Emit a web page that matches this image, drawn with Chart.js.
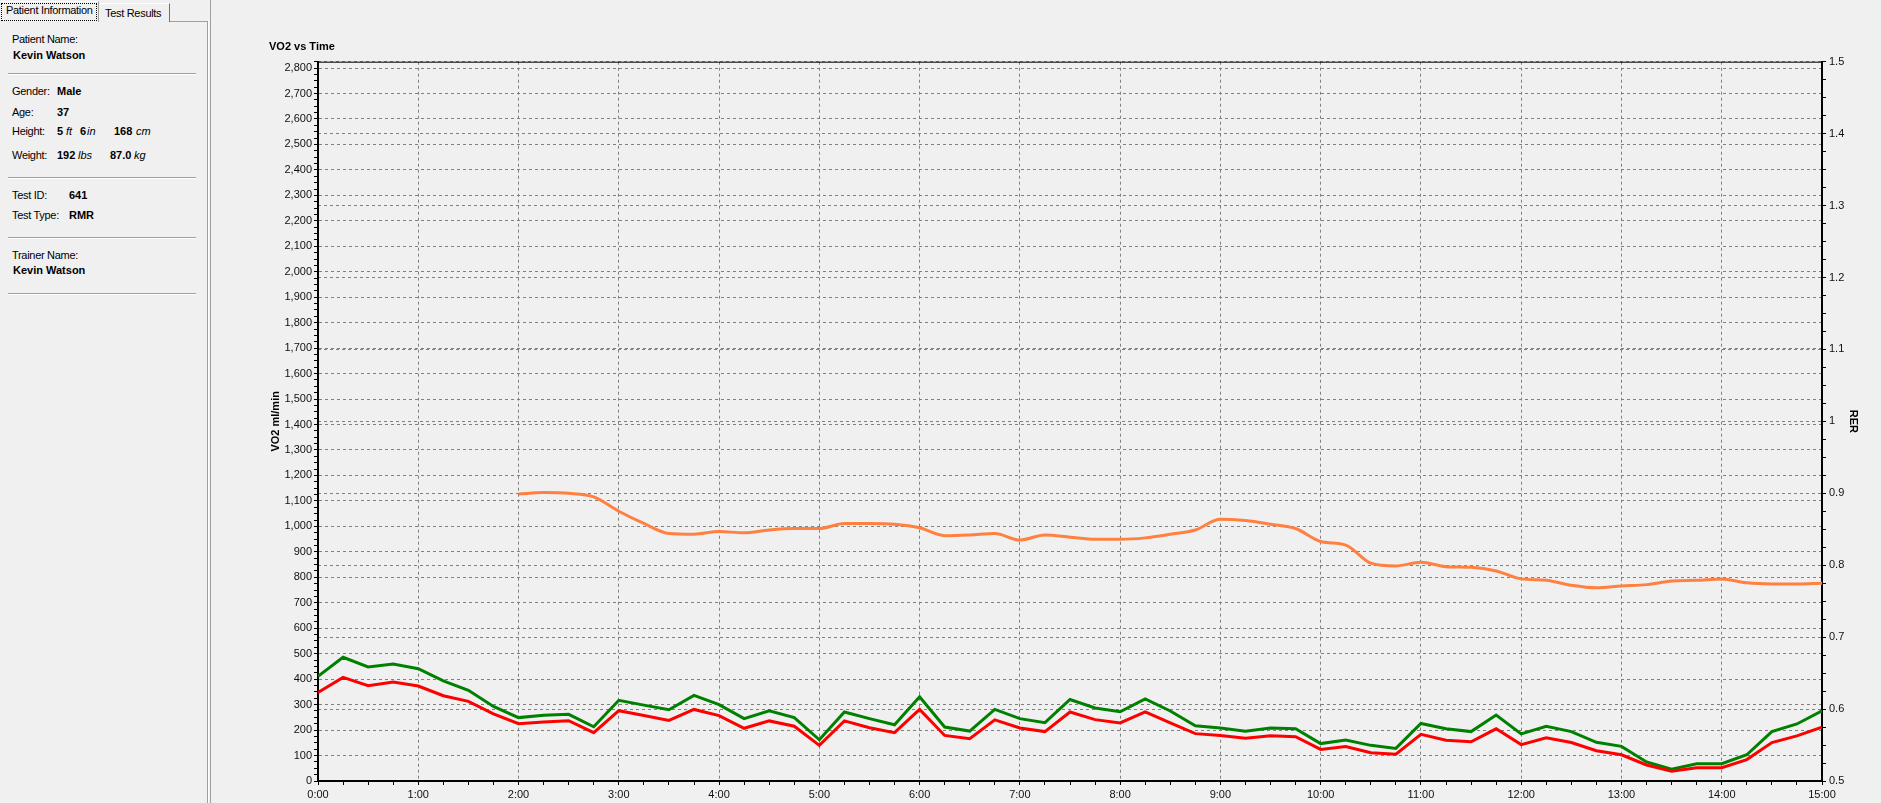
<!DOCTYPE html>
<html>
<head>
<meta charset="utf-8">
<title>VO2 vs Time</title>
<script src="https://cdn.jsdelivr.net/npm/chart.js@4.4.1/dist/chart.umd.min.js"></script>
<style>
  html, body { margin: 0; padding: 0; }
  body {
    width: 1881px; height: 803px; overflow: hidden; position: relative;
    background: #f0f0f0; color: #000;
    font-family: "Liberation Sans", Arial, sans-serif; font-size: 11px;
  }
  .t { position: absolute; white-space: nowrap; line-height: 13px; }
  .lbl { letter-spacing: -0.3px; }
  .val { font-weight: bold; }
  .unit { font-style: italic; }
  .sep { position: absolute; left: 8px; width: 188px; height: 1px; background: #a0a0a0; border-bottom: 1px solid #fff; }

  /* tabs */
  .tab1 { position: absolute; left: 0; top: 1px; width: 98px; height: 20px; border-right: 1px solid #a0a0a0; border-top: 1px solid #fff; }
  .tab1 .focus { position: absolute; left: 1px; top: 1px; width: 94px; height: 16px; border: 1px dotted #000; }
  .tab2 { position: absolute; left: 100px; top: 3px; width: 69px; height: 18px; border-top: 1px solid #fff; border-right: 1px solid #707070; }
  .panelTop { position: absolute; left: 170px; top: 21px; width: 37px; height: 1px; background: #a0a0a0; }
  .vline1 { position: absolute; left: 207px; top: 21px; width: 1px; height: 782px; background: #a0a0a0; }
  .vline2 { position: absolute; left: 210px; top: 0; width: 1px; height: 803px; background: #a0a0a0; }
  .vlight { position: absolute; left: 208px; top: 21px; width: 1px; height: 782px; background: #fff; }

  #chartBox { position: absolute; left: 213px; top: 0; width: 1668px; height: 803px; }
  #vo2Chart { display: block; }
</style>
</head>
<body>

<!-- left info panel -->
<div class="tab1"><div class="focus"></div><span class="t lbl" style="left:6px;top:2px">Patient Information</span></div>
<div class="tab2"><span class="t lbl" style="left:5px;top:3px">Test Results</span></div>
<div class="panelTop"></div>
<div class="vline1"></div>
<div class="vlight"></div>
<div class="vline2"></div>

<span class="t lbl" style="left:12px;top:33px">Patient Name:</span>
<span class="t val" style="left:13px;top:49px">Kevin Watson</span>
<div class="sep" style="top:73px"></div>

<span class="t lbl" style="left:12px;top:85px">Gender:</span>
<span class="t val" style="left:57px;top:85px">Male</span>
<span class="t lbl" style="left:12px;top:106px">Age:</span>
<span class="t val" style="left:57px;top:106px">37</span>
<span class="t lbl" style="left:12px;top:125px">Height:</span>
<span class="t val" style="left:57px;top:125px">5</span>
<span class="t unit" style="left:66px;top:125px">ft</span>
<span class="t val" style="left:80px;top:125px">6</span>
<span class="t unit" style="left:87px;top:125px">in</span>
<span class="t val" style="left:114px;top:125px">168</span>
<span class="t unit" style="left:136px;top:125px">cm</span>
<span class="t lbl" style="left:12px;top:149px">Weight:</span>
<span class="t val" style="left:57px;top:149px">192</span>
<span class="t unit" style="left:78px;top:149px">lbs</span>
<span class="t val" style="left:110px;top:149px">87.0</span>
<span class="t unit" style="left:134px;top:149px">kg</span>
<div class="sep" style="top:177px"></div>

<span class="t lbl" style="left:12px;top:189px">Test ID:</span>
<span class="t val" style="left:69px;top:189px">641</span>
<span class="t lbl" style="left:12px;top:209px">Test Type:</span>
<span class="t val" style="left:69px;top:209px">RMR</span>
<div class="sep" style="top:237px"></div>

<span class="t lbl" style="left:12px;top:249px">Trainer Name:</span>
<span class="t val" style="left:13px;top:264px">Kevin Watson</span>
<div class="sep" style="top:293px"></div>

<div id="chartBox"><canvas id="vo2Chart" width="1668" height="803"></canvas></div>

<script>
// time of each sample, in seconds (one every 15 s)
const timeSec = [0, 15, 30, 45, 60, 75, 90, 105, 120, 135, 150, 165, 180, 195, 210, 225,
  240, 255, 270, 285, 300, 315, 330, 345, 360, 375, 390, 405, 420, 435, 450, 465,
  480, 495, 510, 525, 540, 555, 570, 585, 600, 615, 630, 645, 660, 675, 690, 705,
  720, 735, 750, 765, 780, 795, 810, 825, 840, 855, 870, 885, 900];

// VO2 ml/min (green)
const vo2 = [411, 486, 448, 459, 441, 393, 356, 293, 249, 258, 262, 213, 317, 298, 280, 336,
  300, 245, 276, 249, 162, 271, 245, 221, 331, 212, 196, 281, 245, 229, 320, 287,
  272, 322, 275, 217, 208, 195, 208, 205, 147, 161, 140, 128, 226, 205, 194, 259,
  185, 215, 194, 152, 136, 75, 46, 68, 68, 103, 194, 224, 276];

// VCO2 ml/min (red)
const vco2 = [348, 407, 374, 389, 373, 335, 313, 264, 225, 232, 237, 190, 276, 257, 238, 281,
  257, 207, 236, 215, 140, 236, 209, 190, 281, 179, 166, 240, 208, 194, 271, 241,
  228, 271, 228, 186, 179, 168, 178, 174, 124, 135, 111, 105, 183, 160, 154, 205,
  143, 170, 151, 119, 103, 63, 38, 52, 52, 84, 151, 177, 211];

// RER (orange, right axis) - starts at 2:00
const rer = [null, null, null, null, null, null, null, null,
  0.899, 0.901, 0.900, 0.895, 0.875, 0.858, 0.844, 0.843,
  0.847, 0.845, 0.849, 0.851, 0.851, 0.858, 0.858, 0.857, 0.852, 0.841, 0.842, 0.844,
  0.835, 0.842, 0.839, 0.836, 0.836, 0.838, 0.843, 0.849, 0.864, 0.862, 0.857, 0.851,
  0.833, 0.828, 0.803, 0.799, 0.804, 0.798, 0.797, 0.792, 0.781, 0.779, 0.772, 0.7685,
  0.771, 0.773, 0.778, 0.779, 0.781, 0.7755, 0.774, 0.774, 0.775];

// axis ranges and tick steps
const timeMax = 900, timeMajor = 60, timeMinor = 15;
const vo2Max = 2825, vo2Major = 100, vo2Minor = 25;
const rerMin = 0.5, rerMax = 1.5, rerMajor = 0.1, rerMinor = 0.025;

const toPoints = (values) => timeSec.map((t, i) => ({ x: t, y: values[i] }));

// major + minor ticks; minor ones get no label and no grid line
function makeTicks(min, max, major, minor) {
  const ticks = [];
  const n = Math.round((max - min) / minor);
  const per = Math.round(major / minor);
  for (let i = 0; i <= n; i++) {
    const v = +(min + i * minor).toFixed(4);
    if (v > max + 1e-9) break;
    ticks.push({ value: v, minor: i % per !== 0 });
  }
  return ticks;
}

const gridColor = (ctx) => (ctx.tick && ctx.tick.minor ? "rgba(0,0,0,0)" : "#808080");
const tickFont = { family: "'Liberation Sans', Arial, sans-serif", size: 11 };
const titleFont = { family: "'Liberation Sans', Arial, sans-serif", size: 11, weight: "bold" };

const baseGrid = { color: gridColor, lineWidth: 1, tickLength: 4, tickColor: "#000", tickWidth: 1, tickBorderDash: [] };
const baseBorder = { display: true, color: "#000", width: 2, dash: [3, 3] };

// thin top frame line of the plot
const frameTop = {
  id: "frameTop",
  afterDatasetsDraw(chart) {
    const { ctx, chartArea: a } = chart;
    ctx.save();
    ctx.strokeStyle = "#000";
    ctx.lineWidth = 1;
    ctx.beginPath();
    ctx.moveTo(a.left, a.top + 0.5);
    ctx.lineTo(a.right, a.top + 0.5);
    ctx.stroke();
    ctx.restore();
  },
};

new Chart(document.getElementById("vo2Chart"), {
  type: "line",
  data: {
    datasets: [
      { label: "VCO2", data: toPoints(vco2), yAxisID: "y", borderColor: "#ff0000", borderWidth: 3, pointRadius: 0, tension: 0 },
      { label: "VO2", data: toPoints(vo2), yAxisID: "y", borderColor: "#008000", borderWidth: 3, pointRadius: 0, tension: 0 },
      { label: "RER", data: toPoints(rer), yAxisID: "y2", borderColor: "#ff8040", borderWidth: 3, pointRadius: 0,
        cubicInterpolationMode: "monotone", spanGaps: false },
    ],
  },
  options: {
    responsive: false,
    animation: false,
    layout: { padding: { left: 56, right: 21, top: 0, bottom: 0 } },
    plugins: {
      legend: { display: false },
      tooltip: { enabled: false },
      title: {
        display: true, text: "VO2 vs Time", align: "start", color: "#000",
        font: titleFont, padding: { top: 40, bottom: 8.5 },
      },
    },
    scales: {
      x: {
        type: "linear", min: 0, max: timeMax, bounds: "data",
        afterBuildTicks: (s) => { s.ticks = makeTicks(0, timeMax, timeMajor, timeMinor); },
        afterFit: (s) => { s.height = 22; },
        ticks: {
          autoSkip: false, maxRotation: 0, padding: 3, color: "#101010", font: tickFont,
          callback: (v, i, ticks) => ticks[i].minor ? "" : `${Math.floor(v / 60)}:${String(v % 60).padStart(2, "0")}`,
        },
        grid: baseGrid,
        border: baseBorder,
      },
      y: {
        type: "linear", position: "left", min: 0, max: vo2Max, bounds: "data",
        afterBuildTicks: (s) => { s.ticks = makeTicks(0, vo2Max, vo2Major, vo2Minor); },
        afterFit: (s) => { s.width = 49; },
        ticks: {
          autoSkip: false, padding: 2, color: "#101010", font: tickFont,
          callback: (v, i, ticks) => ticks[i].minor ? "" : v.toLocaleString("en-US"),
        },
        title: { display: true, text: "VO2 ml/min", color: "#000", font: titleFont, padding: 0 },
        grid: baseGrid,
        border: baseBorder,
      },
      y2: {
        type: "linear", position: "right", min: rerMin, max: rerMax, bounds: "data",
        afterBuildTicks: (s) => { s.ticks = makeTicks(rerMin, rerMax, rerMajor, rerMinor); },
        afterFit: (s) => { s.width = 38; },
        ticks: {
          autoSkip: false, padding: 3, color: "#101010", font: tickFont,
          callback: (v, i, ticks) => ticks[i].minor ? "" : String(Math.round(v * 10) / 10),
        },
        title: { display: true, text: "RER", color: "#000", font: titleFont, padding: 0 },
        grid: baseGrid,
        border: baseBorder,
      },
    },
  },
  plugins: [frameTop],
});
</script>
</body>
</html>
